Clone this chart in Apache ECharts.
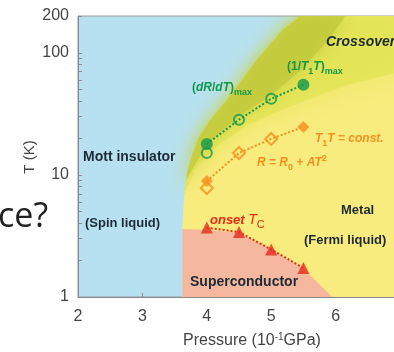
<!DOCTYPE html>
<html><head><meta charset="utf-8">
<script src="https://cdn.jsdelivr.net/npm/echarts@6/dist/echarts.min.js"></script>
<style>html,body{margin:0;padding:0;background:#fff;}#c{width:394px;height:352px;}</style>
</head><body><div id="c"></div>
<script>
// axes
const pressureTicks = [2,3,4,5,6,7];
const tempTickLabels = [1,10,100,200];
const tempMinorTicks = [1,2,3,4,5,6,7,8,9,10,20,30,40,50,60,70,80,90,100,200];

// region boundaries (pressure, temperature)
const mottEdgeP = [3.62,3.62,3.65,3.70,3.78,3.87,4.05,4.33,4.78,5.18,5.45];
const mottEdgeT = [1,3.7,7,11,15,20,28,42,88,154,200];
const scEdgeP = [3.62,3.62,4.0,4.5,5.0,5.5,5.95];
const scEdgeT = [1,3.6,3.55,3.35,2.45,1.7,1];
const crossWideP = [3.66,3.85,4.2,4.6,5.1,5.6,6.2,7.0];
const crossWideT = [7,12,18,25,33,42,55,70];
const crossCoreP = [3.68,3.85,4.1,4.5,5.0,5.5,5.9,6.15];
const crossCoreT = [9,13,20,30,45,75,130,200];

// measured data
const dRdTP = [4.0,4.5,5.0];
const dRdTT = [15.1,28.3,42];
const t1tMaxP = [4.0,5.5];
const t1tMaxT = [17.9,54.7];
const rAT2P = [4.0,4.5,5.0];
const rAT2T = [7.8,15.1,19.7];
const t1tConstP = [4.0,5.5];
const t1tConstT = [8.9,24.7];
const tcP = [4.0,4.5,5.0,5.5];
const tcT = [3.7,3.4,2.45,1.73];

const zip = (a,b) => a.map((v,i)=>[v,b[i]]);
const PMAX = pressureTicks[pressureTicks.length-1];
const TMAX = tempTickLabels[tempTickLabels.length-1];
const TMIN = tempTickLabels[0];

const mottPts = zip(mottEdgeP, mottEdgeT);
const metalPoly = mottPts.concat([[PMAX,TMAX],[PMAX,TMIN]]);
const scPoly = zip(scEdgeP, scEdgeT);
const widePoly = mottPts.slice(2).concat([[PMAX,TMAX]]).concat(zip(crossWideP,crossWideT).reverse());
const corePoly = mottPts.slice(2).concat(zip(crossCoreP,crossCoreT).reverse());

const GREEN = '#119a4c', ORANGE = '#f5901e', RED = '#e62a1c';

function polySeries(pts, style, z){
  return {type:'custom', coordinateSystem:'cartesian2d', z:z, silent:true, clip:true,
    data:[pts[0]], encode:{x:0,y:1},
    renderItem:(params, api)=>({type:'polygon', shape:{points: pts.map(p=>api.coord(p))}, style:style})};
}
function lineSeries(pts, color, z){
  return {type:'line', data:pts, showSymbol:false, z:z, silent:true,
    lineStyle:{color:color, width:2, type:[2,2]}};
}
function scatterSeries(pts, symbol, size, color, open, z){
  return {type:'scatter', data:pts, symbol:symbol, symbolSize:size, z:z, silent:true,
    itemStyle: open ? {color:'rgba(0,0,0,0)', borderColor:color, borderWidth:2} : {color:color}};
}

const green4 = zip(t1tMaxP,t1tMaxT);
const greenOpen = zip(dRdTP,dRdTT);
const greenLine = [green4[0], greenOpen[1], greenOpen[2], green4[1]];
const orFill = zip(t1tConstP,t1tConstT);
const orOpen = zip(rAT2P,rAT2T);
const orLine = [orFill[0], orOpen[1], orOpen[2], orFill[1]];
const tcPts = zip(tcP,tcT);

const F = '"Liberation Sans", Arial, sans-serif';
const sub = (c, fs) => ({fontSize:fs, fill:c, fontWeight:'bold', fontFamily:F, verticalAlign:'bottom', lineHeight:18});

const chart = echarts.init(document.getElementById('c'));
chart.setOption({
  animation:false,
  grid:{left:78, right:-6, top:16, bottom:55, outerBoundsMode:'none', show:true, backgroundColor:'#b7e1f1', borderColor:'#9a9a9a', borderWidth:1},
  xAxis:{type:'value', min:2, max:PMAX, interval:1,
    axisLine:{lineStyle:{color:'#8a8a8a', width:1}},
    axisTick:{inside:true, length:4, lineStyle:{color:'#8a8a8a'}},
    axisLabel:{fontSize:16, color:'#444', margin:12, fontFamily:F},
    splitLine:{show:false}},
  yAxis:{type:'log', logBase:10, min:TMIN, max:TMAX,
    axisLine:{show:true, lineStyle:{color:'#8a8a8a', width:1}},
    axisTick:{show:true, inside:true, length:4, customValues:tempMinorTicks, lineStyle:{color:'#8a8a8a'}},
    axisLabel:{fontSize:16, color:'#444', margin:9, fontFamily:F, customValues:tempTickLabels},
    splitLine:{show:false}, minorTick:{show:false}},
  series:[
    polySeries(metalPoly, {fill:'#f8ec7e'}, 1),
    polySeries(widePoly, {fill:'#dfe24f', opacity:0.6, shadowBlur:22, shadowColor:'#dfe24f'}, 2),
    polySeries(corePoly, {fill:'#c2cb3c', opacity:0.8, shadowBlur:14, shadowColor:'#c2cb3c'}, 3),
    polySeries(scPoly, {fill:'#f5b89e'}, 4),
    lineSeries(greenLine, GREEN, 5),
    lineSeries(orLine, ORANGE, 5),
    lineSeries(tcPts, RED, 5),
    scatterSeries(greenOpen, 'circle', 10, GREEN, true, 6),
    scatterSeries(green4, 'circle', 12, GREEN, false, 6),
    scatterSeries(orOpen, 'diamond', 12, ORANGE, true, 6),
    scatterSeries(orFill, 'diamond', 12, ORANGE, false, 6),
    scatterSeries(tcPts, 'triangle', 12, RED, false, 6)
  ],
  graphic:[
    {type:'text', left:-2, top:200, style:{text:'ce?', font:'34px "Open Sans", sans-serif', fill:'#222'}},
    {type:'text', x:30, y:157, rotation:Math.PI/2, style:{text:'T (K)', font:'15px '+F, fill:'#444', align:'center', verticalAlign:'middle'}},
    {type:'text', x:252, y:341, style:{text:'{a|Pressure (10}{s|-1}{a|GPa)}', align:'center', verticalAlign:'middle',
      rich:{a:{fontSize:16, fill:'#444', fontFamily:F, lineHeight:18}, s:{fontSize:10, fill:'#444', fontFamily:F, verticalAlign:'top', lineHeight:18}}}},
    {type:'text', x:83, y:157, z:10, style:{text:'Mott insulator', font:'bold 14px '+F, fill:'#1e2a36', verticalAlign:'middle'}},
    {type:'text', x:85, y:223, z:10, style:{text:'(Spin liquid)', font:'bold 13px '+F, fill:'#1e2a36', verticalAlign:'middle'}},
    {type:'text', x:341, y:210, z:10, style:{text:'Metal', font:'bold 13px '+F, fill:'#1e2a36', verticalAlign:'middle'}},
    {type:'text', x:304, y:240, z:10, style:{text:'(Fermi liquid)', font:'bold 13px '+F, fill:'#1e2a36', verticalAlign:'middle'}},
    {type:'text', x:190, y:282, z:10, style:{text:'Superconductor', font:'bold 14px '+F, fill:'#1e2a36', verticalAlign:'middle'}},
    {type:'text', x:326, y:42, z:10, style:{text:'Crossover', font:'italic bold 14px '+F, fill:'#1e2a36', verticalAlign:'middle'}},
    {type:'text', x:287, y:67, z:10, style:{text:'{a|(1/}{i|T}{s|1}{i|T}{a|)}{s|max}', verticalAlign:'middle',
      rich:{a:{fontSize:12, fontWeight:'bold', fill:GREEN, fontFamily:F, lineHeight:18}, i:{fontSize:12, fontWeight:'bold', fontStyle:'italic', fill:GREEN, fontFamily:F, lineHeight:18}, s:sub(GREEN,9)}}},
    {type:'text', x:192, y:88, z:10, style:{text:'{a|(}{i|dR}{a|/}{i|dT}{a|)}{s|max}', verticalAlign:'middle',
      rich:{a:{fontSize:12, fontWeight:'bold', fill:GREEN, fontFamily:F, lineHeight:18}, i:{fontSize:12, fontWeight:'bold', fontStyle:'italic', fill:GREEN, fontFamily:F, lineHeight:18}, s:sub(GREEN,9)}}},
    {type:'text', x:315, y:139, z:10, style:{text:'{i|T}{s|1}{i|T = const.}', verticalAlign:'middle',
      rich:{i:{fontSize:12, fontWeight:'bold', fontStyle:'italic', fill:ORANGE, fontFamily:F, lineHeight:18}, s:sub(ORANGE,9)}}},
    {type:'text', x:257, y:163, z:10, style:{text:'{i|R = R}{s|0}{i| + AT}{p|2}', verticalAlign:'middle',
      rich:{i:{fontSize:12, fontWeight:'bold', fontStyle:'italic', fill:ORANGE, fontFamily:F, lineHeight:18}, s:sub(ORANGE,9),
        p:{fontSize:9, fontWeight:'bold', fill:ORANGE, fontFamily:F, verticalAlign:'top', lineHeight:18}}}},
    {type:'text', x:210, y:220, z:10, style:{text:'{i|onset }{t|T}{s|C}', verticalAlign:'middle',
      rich:{i:{fontSize:13, fontWeight:'bold', fontStyle:'italic', fill:RED, fontFamily:F, lineHeight:20}, t:{fontSize:14, fontStyle:'italic', fill:RED, fontFamily:F, lineHeight:20},
        s:{fontSize:11, fill:RED, fontFamily:F, verticalAlign:'bottom', lineHeight:20}}}}
  ]
});
</script></body></html>
